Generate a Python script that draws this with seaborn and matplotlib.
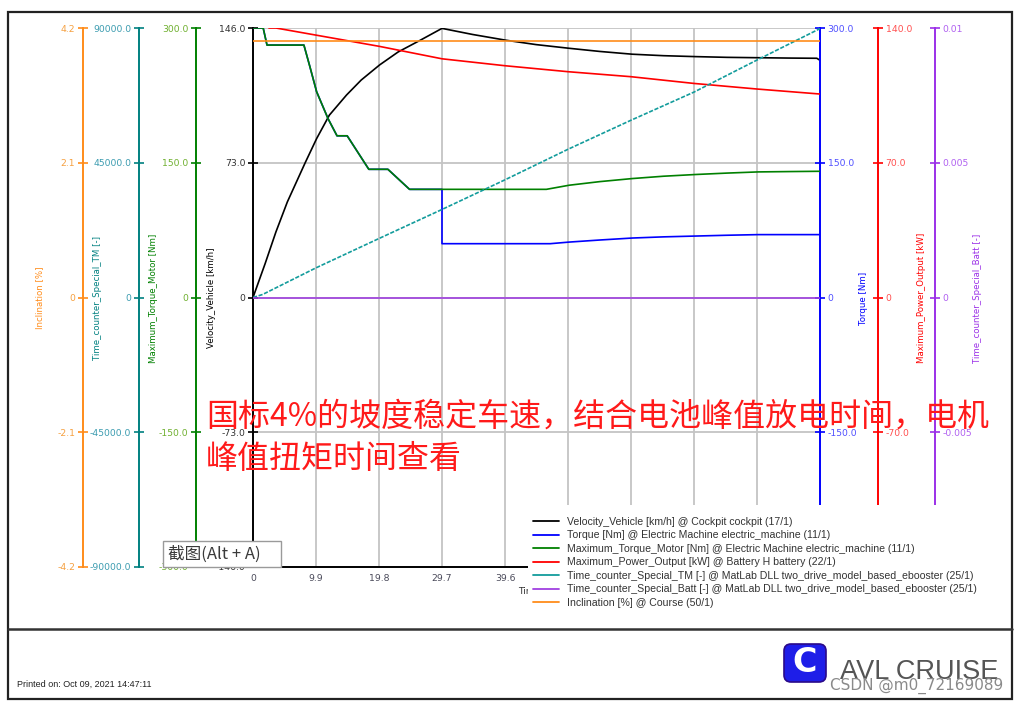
import numpy as np
import pandas as pd
import matplotlib
matplotlib.use('Agg')
import matplotlib.pyplot as plt
import seaborn as sns
from matplotlib.patches import Rectangle, FancyBboxPatch
from matplotlib.lines import Line2D

sns.set_style('white')
plt.rcParams['font.family'] = ['DejaVu Sans', 'Noto Sans CJK SC']

# ---------------- data ----------------
time_ticks = [0, 9.9, 19.8, 29.7, 39.6, 49.5, 59.4, 69.3, 79.2, 89.1]
time_tick_labels = ['0', '9.9', '19.8', '29.7', '39.6', '49.5', '59.4', '69.3', '79.2', '89.1']

vel_t = [0, 1.9, 3.6, 5.4, 8.2, 10.0, 12.0, 14.7, 17.0, 19.9, 22.8, 26.3, 29.7, 34.5, 39.7,
         44.5, 49.7, 54.5, 59.6, 64.5, 69.5, 74.5, 79.4, 84.5, 88.6, 89.1]
vel_v = [0, 18.3, 35.5, 51.8, 73.0, 86.1, 98.8, 109.7, 117.8, 126.0, 133.0, 139.4, 145.8, 142.5, 139.4,
         137.0, 135.0, 133.3, 131.8, 131.0, 130.5, 130.1, 129.9, 129.7, 129.6, 128.5]

tq_t = [0, 1.6, 2.2, 8.0, 8.9, 10.0, 11.8, 13.2, 14.8, 18.2, 21.2, 24.6, 29.7, 29.7, 46.7,
        49.7, 54.5, 59.6, 64.5, 69.5, 74.5, 79.4, 84.5, 89.1]
tq_v = [300, 300, 281, 281, 258, 229, 199, 180, 180, 142.7, 142.7, 120.4, 120.4, 59.9, 59.9,
        61.7, 64.0, 66.2, 67.5, 68.4, 69.3, 70.0, 70.0, 70.0]

mt_t = [0, 1.6, 2.2, 8.0, 8.9, 10.0, 11.8, 13.2, 14.8, 18.2, 21.2, 24.6, 46.1,
        49.7, 54.5, 59.6, 64.5, 69.5, 74.5, 79.4, 84.5, 89.1]
mt_v = [300, 300, 281, 281, 258, 229, 199, 180, 180, 142.7, 142.7, 120.4, 120.4,
        125.0, 129.0, 132.4, 135.0, 136.9, 138.5, 139.8, 140.2, 140.5]

mp_t = [2.5, 3.6, 9.9, 19.8, 29.7, 39.6, 49.5, 59.4, 69.3, 79.2, 89.1]
mp_v = [140.0, 140.0, 136.3, 130.5, 124.0, 120.4, 117.3, 114.7, 111.2, 108.3, 105.7]

tm_t = [0, 1.5, 9.9, 19.8, 29.7, 39.6, 49.5, 59.4, 69.3, 79.2, 89.1]
tm_v = [0, 1000, 9900, 19700, 29400, 39300, 49500, 59200, 68600, 79300, 89800]

bt_t = [0, 89.1]
bt_v = [0, 0]

inc_t = [0, 89.1]
inc_v = [4.0, 4.0]

series_names = [
    'Velocity_Vehicle [km/h] @ Cockpit cockpit (17/1)',
    'Torque [Nm] @ Electric Machine electric_machine (11/1)',
    'Maximum_Torque_Motor [Nm] @ Electric Machine electric_machine (11/1)',
    'Maximum_Power_Output [kW] @ Battery H battery (22/1)',
    'Time_counter_Special_TM [-] @ MatLab DLL two_drive_model_based_ebooster (25/1)',
    'Time_counter_Special_Batt [-] @ MatLab DLL two_drive_model_based_ebooster (25/1)',
    'Inclination [%] @ Course (50/1)',
]
axis_titles = ['Velocity_Vehicle [km/h]', 'Torque [Nm]', 'Maximum_Torque_Motor [Nm]',
               'Maximum_Power_Output [kW]', 'Time_counter_Special_TM [-]',
               'Time_counter_Special_Batt [-]', 'Inclination [%]']

vel_ticks = [-146, -73, 0, 73, 146]
vel_labels = ['-146.0', '-73.0', '0', '73.0', '146.0']
tq_ticks = [-300, -150, 0, 150, 300]
tq_labels = ['-300.0', '-150.0', '0', '150.0', '300.0']
mt_ticks = [-300, -150, 0, 150, 300]
mt_labels = ['-300.0', '-150.0', '0', '150.0', '300.0']
mp_ticks = [-140, -70, 0, 70, 140]
mp_labels = ['-140.0', '-70.0', '0', '70.0', '140.0']
tm_ticks = [-90000, -45000, 0, 45000, 90000]
tm_labels = ['-90000.0', '-45000.0', '0', '45000.0', '90000.0']
bt_ticks = [-0.01, -0.005, 0, 0.005, 0.01]
bt_labels = ['-0.01', '-0.005', '0', '0.005', '0.01']
inc_ticks = [-4.2, -2.1, 0, 2.1, 4.2]
inc_labels = ['-4.2', '-2.1', '0', '2.1', '4.2']

# ---------------- figure ----------------
FW, FH = 1018, 704
fig = plt.figure(figsize=(FW / 100, FH / 100), dpi=100)
fig.patch.set_facecolor('white')


def px(x, y):
    return (x / FW, 1 - y / FH)


AX_L, AX_R, AX_T, AX_B = 253, 820, 28, 567
AW = AX_R - AX_L
ax = fig.add_axes([AX_L / FW, 1 - AX_B / FH, AW / FW, (AX_B - AX_T) / FH])
ax.set_facecolor('white')

configs = [
    # t, v, color, tick label color, ticks, labels, side, spine px, label px, ls
    (vel_t, vel_v, '#000000', '#333333', vel_ticks, vel_labels, 'left', 253, 211, '-'),
    (tq_t, tq_v, '#0000FF', '#5050FF', tq_ticks, tq_labels, 'right', 820, 864, '-'),
    (mt_t, mt_v, '#008000', '#70B030', mt_ticks, mt_labels, 'left', 196, 154, '-'),
    (mp_t, mp_v, '#FF0000', '#FF5050', mp_ticks, mp_labels, 'right', 878, 921, '-'),
    (tm_t, tm_v, '#139C9C', '#3C9CB0', tm_ticks, tm_labels, 'left', 139, 97, (0, (2.5, 1))),
    (bt_t, bt_v, '#A040E0', '#B060F0', bt_ticks, bt_labels, 'right', 935, 978, '-'),
    (inc_t, inc_v, '#FF8C1A', '#F5A040', inc_ticks, inc_labels, 'left', 83, 40, '-'),
]
spine_colors = ['#000000', '#0000FF', '#008000', '#FF0000', '#008080', '#9B30E8', '#FF8C1A']

handles = []
for i, (t, v, col, tcol, ticks, tlabels, side, spx, lpx, ls) in enumerate(configs):
    a = ax if i == 0 else ax.twinx()
    df = pd.DataFrame({'t': t, 'v': v})
    sns.lineplot(data=df, x='t', y='v', ax=a, color=col, linewidth=1.2,
                 estimator=None, sort=False, linestyle=ls)
    if a.get_legend() is not None:
        a.get_legend().remove()
    a.set_xlabel('')
    a.set_ylabel('')
    for s in a.spines.values():
        s.set_visible(False)
    sp = a.spines[side]
    sp.set_visible(True)
    sp.set_position(('axes', (spx - AX_L) / AW))
    sp.set_color(spine_colors[i])
    sp.set_linewidth(1.4)
    if side == 'left':
        a.yaxis.tick_left()
    else:
        a.yaxis.tick_right()
    a.set_ylim(ticks[0], ticks[-1])
    a.set_yticks(ticks)
    a.set_yticklabels(tlabels)
    a.tick_params(axis='y', direction='inout', length=7, width=1.2, color=spine_colors[i],
                  labelcolor=tcol, labelsize=6.7, pad=2)
    fig.text(*px(lpx, 298), axis_titles[i], rotation=90, ha='center', va='center',
             fontsize=6.2, color=spine_colors[i] if i != 0 else '#000000')
    handles.append(Line2D([0], [0], color=col, lw=1.3))

ax.set_xlim(0, 89.1)
ax.set_xticks(time_ticks)
ax.set_xticklabels(time_tick_labels)
ax.spines['bottom'].set_visible(True)
ax.spines['bottom'].set_color('#000000')
ax.spines['bottom'].set_linewidth(1.4)
ax.tick_params(axis='x', direction='inout', length=7, width=1.2, color='#000000',
               labelcolor='#4a4a5a', labelsize=6.7, pad=1.5)
ax.grid(True, color='#c4c4c4', linewidth=1.3)
ax.set_axisbelow(True)
ax.set_xlabel('Time [s]', fontsize=6.5, color='#333333', labelpad=2)

# legend area (white box covering the lower right of the plot)
fig.add_artist(Rectangle(px(528, 616), 474 / FW, 111 / FH, transform=fig.transFigure,
                         facecolor='white', edgecolor='none', zorder=3))
leg = fig.legend(handles, series_names, loc='upper left', bbox_to_anchor=px(533, 517),
                 frameon=False, prop={'family': 'Liberation Sans', 'size': 7.6},
                 handlelength=2.5, handletextpad=0.7, labelspacing=0.33,
                 borderpad=0, borderaxespad=0)
for txt in leg.get_texts():
    txt.set_color('#333333')

# annotation text
cjk = ['Noto Sans CJK SC', 'DejaVu Sans']
fig.text(*px(206, 417), '国标4%的坡度稳定车速，结合电池峰值放电时间，电机', family=cjk,
         fontsize=23, color='#FF1A1A', ha='left', va='center', zorder=7)
fig.text(*px(206, 459), '峰值扭矩时间查看', family=cjk,
         fontsize=23, color='#FF1A1A', ha='left', va='center', zorder=7)

# screenshot tooltip
fig.add_artist(Rectangle(px(163, 567), 118 / FW, 26 / FH, transform=fig.transFigure,
                         facecolor='white', edgecolor='#9a9a9a', lw=1, zorder=8))
fig.text(*px(168, 554), '截图(Alt + A)', family=cjk, fontsize=12, color='#3a3a3a',
         ha='left', va='center', zorder=9)

# outer frame and footer
fig.add_artist(Rectangle(px(8, 699), 1004 / FW, 687 / FH, transform=fig.transFigure,
                         fill=False, edgecolor='#222222', lw=1.6, zorder=6))
fig.add_artist(Line2D([8 / FW, 1012 / FW], [1 - 629 / FH] * 2, transform=fig.transFigure,
                      color='#333333', lw=1.8, zorder=6))
fig.text(*px(17, 684), 'Printed on: Oct 09, 2021 14:47:11', fontsize=6.5,
         family='Liberation Sans', color='#222222', ha='left', va='center')

fig.add_artist(FancyBboxPatch((7.84, (FH - 682) / 100), 0.42, 0.38,
                              boxstyle='round,pad=0,rounding_size=0.07',
                              transform=fig.dpi_scale_trans, facecolor='#1E1EE8',
                              edgecolor='#2A0A8A', lw=1.2, zorder=6))
fig.text(*px(805, 662), 'C', fontsize=24, fontweight='bold', color='white',
         ha='center', va='center', zorder=7)
fig.text(*px(840, 672), 'AVL CRUISE', fontsize=19.5, family='Liberation Sans',
         color='#555555', ha='left', va='center', zorder=7)
fig.text(*px(1003, 686), 'CSDN @m0_72169089', fontsize=11, color='#8a8a8a',
         ha='right', va='center', zorder=8)

fig.savefig('out.png', dpi=100)
